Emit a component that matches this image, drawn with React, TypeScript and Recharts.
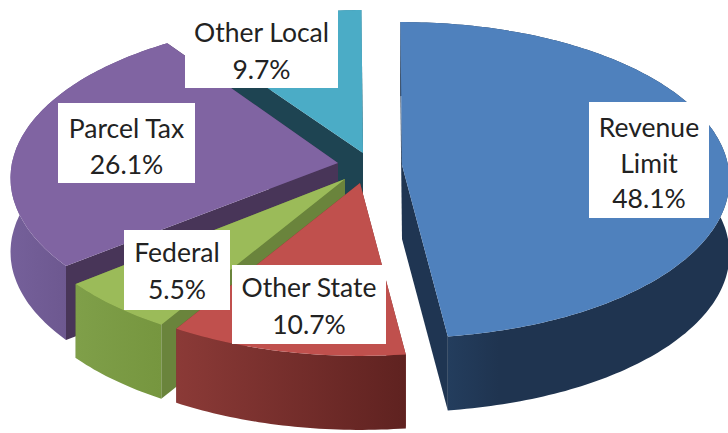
import React from "react";
import { PieChart, Pie } from "recharts";

// Paint order is back to front; angles run counter-clockwise from 12 o'clock.
const categories = ["Other Local", "Parcel Tax", "Federal", "Other State", "Revenue Limit"];
const shares = [9.7, 26.1, 5.5, 10.7, 48.1];
const data = categories.map((name, i) => ({ name, value: shares[i] }));

const WIDTH = 728;
const HEIGHT = 433;
const CX = 360;
const CY = 170;
const RADIUS = 326;
const SQUASH = 0.48;
const PERSPECTIVE = 0.095;
const DEPTH = 74;
const ROTATION = 0.3;
const FONT = "Lato, Carlito, sans-serif";

type Style = { dx: number; dy: number; spin: number; fade: number; top: string; cut: string; wallA: string; wallB: string };
const STYLES: Record<string, Style> = {
  "Other Local": { dx: 3, dy: -17, spin: 0, fade: 1, top: "#4BACC6", cut: "#1E4452", wallA: "#2f7f95", wallB: "#2f7f95" },
  "Parcel Tax": { dx: -22, dy: -7, spin: -0.8, fade: 1, top: "#8064A2", cut: "#483558", wallA: "#75609a", wallB: "#5f4a7e" },
  Federal: { dx: -15, dy: 9, spin: 0, fade: 1, top: "#9BBB59", cut: "#6A843C", wallA: "#7f9f49", wallB: "#76963F" },
  "Other State": { dx: 0, dy: 13, spin: 0, fade: 1, top: "#C0504D", cut: "#7A2F2D", wallA: "#8B3A37", wallB: "#5F2220" },
  "Revenue Limit": { dx: 42, dy: -5, spin: 0, fade: 0.3, top: "#4F81BD", cut: "#1F3552", wallA: "#28466A", wallB: "#1F3450" },
};

type Box = { x: number; y: number; w: number; h: number; lines: string[]; first: number; gap: number };
const BOXES: Record<string, Box> = {
  "Other Local": { x: 185, y: 10, w: 153, h: 78, lines: ["Other Local"], first: 32, gap: 37 },
  "Parcel Tax": { x: 58, y: 103, w: 137, h: 80, lines: ["Parcel Tax"], first: 128, gap: 36 },
  Federal: { x: 124, y: 230, w: 106, h: 80, lines: ["Federal"], first: 252, gap: 37 },
  "Other State": { x: 232, y: 265, w: 154, h: 79, lines: ["Other State"], first: 287, gap: 37 },
  "Revenue Limit": { x: 589, y: 102, w: 120, h: 116, lines: ["Revenue", "Limit"], first: 127, gap: 35.5 },
};

function project(mathDeg: number, ax: number, ay: number) {
  const t = ((90 - mathDeg) * Math.PI) / 180;
  const f = 1 / (1 + PERSPECTIVE * Math.cos(t));
  return [ax + RADIUS * Math.sin(t) * f, ay - RADIUS * SQUASH * Math.cos(t) * f];
}

const toPath = (pts: number[][]) =>
  pts.map((p, i) => `${i ? "L" : "M"}${p[0].toFixed(1)},${p[1].toFixed(1)}`).join(" ") + " Z";

const sinOfClock = (mathDeg: number) => Math.sin(((90 - mathDeg) * Math.PI) / 180);

function Slice(props: any) {
  const { cx, cy, name } = props;
  const s = STYLES[name];
  const startAngle = props.startAngle + s.spin;
  const endAngle = props.endAngle + s.spin;
  const ax = cx + s.dx;
  const ay = cy + s.dy;
  const n = Math.max(4, Math.ceil(Math.abs(endAngle - startAngle)));
  const arc: number[][] = [];
  for (let i = 0; i <= n; i++) {
    arc.push(project(startAngle + ((endAngle - startAngle) * i) / n, ax, ay));
  }
  const down = (p: number[]) => [p[0], p[1] + DEPTH];
  const apex = [ax, ay];
  const wall = [...arc, ...arc.slice().reverse().map(down)];
  const cutStart = [apex, arc[0], down(arc[0]), down(apex)];
  const cutEnd = [apex, arc[n], down(arc[n]), down(apex)];
  // arc[0] bounds the slice on its clockwise end, arc[n] on its counter-clockwise end.
  const startFront = sinOfClock(startAngle) > 1e-6;
  const endFront = sinOfClock(endAngle) < -1e-6;
  const gid = `wall-${name.replace(/\s/g, "")}`;
  return (
    <g>
      <defs>
        <linearGradient id={gid} x1="0" y1="0" x2="1" y2="0">
          <stop offset="0%" stopColor={s.wallA} />
          <stop offset={`${s.fade * 100}%`} stopColor={s.wallB} />
        </linearGradient>
      </defs>
      {!startFront && <path d={toPath(cutStart)} fill={s.cut} />}
      {!endFront && <path d={toPath(cutEnd)} fill={s.cut} />}
      <path d={toPath(wall)} fill={`url(#${gid})`} />
      {startFront && <path d={toPath(cutStart)} fill={s.cut} />}
      {endFront && <path d={toPath(cutEnd)} fill={s.cut} />}
      <path d={toPath([apex, ...arc])} fill={s.top} />
    </g>
  );
}

function DataLabel(props: any) {
  const b = BOXES[props.name];
  const rows = [...b.lines, `${Number(props.value).toFixed(1)}%`];
  return (
    <g>
      <rect x={b.x} y={b.y} width={b.w} height={b.h} fill="#ffffff" />
      {rows.map((row, i) => (
        <text
          key={row}
          x={b.x + b.w / 2}
          y={b.first + i * b.gap}
          textAnchor="middle"
          dominantBaseline="central"
          fontFamily={FONT}
          fontSize={26.5}
          fill="#222222"
        >
          {row}
        </text>
      ))}
    </g>
  );
}

export default function App() {
  return (
    <div style={{ position: "absolute", left: 0, top: 0, width: WIDTH, height: HEIGHT }}>
      <PieChart width={WIDTH} height={HEIGHT} margin={{ top: 0, right: 0, bottom: 0, left: 0 }}>
        <Pie
          data={data}
          dataKey="value"
          nameKey="name"
          cx={CX}
          cy={CY}
          innerRadius={0}
          outerRadius={RADIUS}
          startAngle={90 + ROTATION}
          endAngle={450 + ROTATION}
          stroke="none"
          isAnimationActive={false}
          shape={Slice}
          label={DataLabel}
          labelLine={false}
        />
      </PieChart>
    </div>
  );
}
